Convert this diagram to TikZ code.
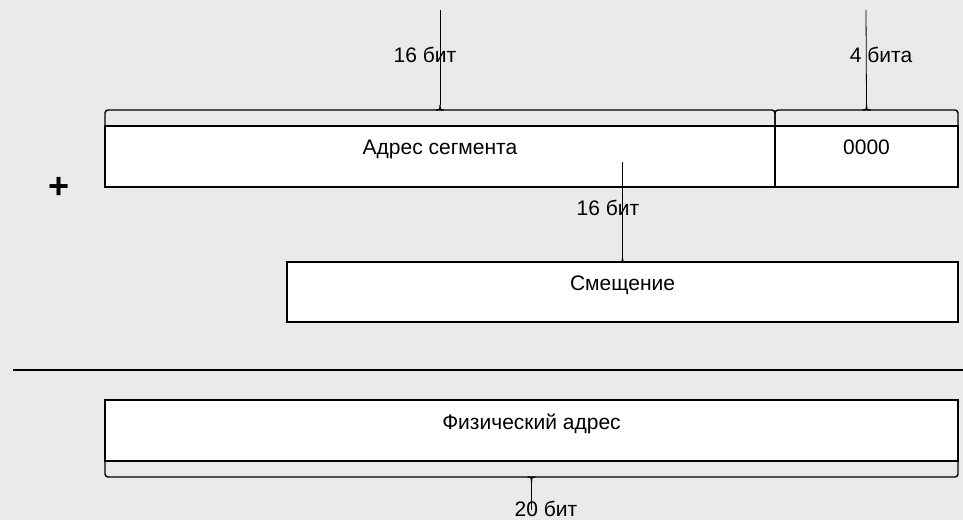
\documentclass[tikz,border=0pt]{standalone}
\usepackage{fontspec}
\setmainfont{Liberation Sans}
\usetikzlibrary{positioning,calc}
\definecolor{canvas}{RGB}{234,234,234}

\tikzset{
  field/.style={draw=black,fill=white,line width=1.6pt,
                minimum height=61pt,inner sep=0pt,outer sep=0pt},
  fieldtext/.style={anchor=base,inner sep=0pt,font=\fontsize{21}{25}\selectfont},
  bracket/.style={line width=1.4pt,rounded corners=3pt},
  tipline/.style={line width=0.8pt},
}

% small cusp in the middle of a bracket: point on the arm, signed height, name of tip
\newcommand{\bitcusp}[3]{%
  \draw[bracket,rounded corners=0pt] ($(#1)+(-4,0)$) .. controls (#1) .. ($(#1)+(0,#2)$) coordinate (#3)
    .. controls (#1) .. ($(#1)+(4,0)$);
}

\begin{document}
\begin{tikzpicture}[x=1pt,y=1pt]
  \fill[canvas] (0,0) rectangle (963,520);
  \useasboundingbox (0,0) rectangle (963,520);

  % segment address + four zero bits
  \node[field,minimum width=670pt] (seg) at (440,363.5) {};
  \node[field,minimum width=183pt,right=0pt of seg] (zero) {};
  \node[fieldtext] (seglbl) at ([yshift=1.5]seg.center) {Адрес сегмента};
  \node[fieldtext] (zerolbl) at ([yshift=1.5]zero.center) {0000};
  \draw[bracket] (seg.north west) -- ++(0,16) -| (seg.north east);
  \draw[bracket] (zero.north west) -- ++(0,16) -| (zero.north east);
  \bitcusp{$(seg.north)+(0,16)$}{5}{segtip}
  \bitcusp{$(zero.north)+(0,16)$}{5}{zerotip}
  \coordinate (segend) at (440,510);
  \coordinate (zeroend) at (866,510);
  \draw[tipline] (segtip) -- (segend);
  \draw[tipline] (zerotip) -- (zeroend);
  \node[fieldtext] (segbits) at (425,457) {16 бит};
  \node[fieldtext] (zerobits) at (881,457) {4 бита};

  \node[font=\fontsize{36}{40}\bfseries,inner sep=0pt] (plus) at (59,332) {+};

  % offset
  \node[field,minimum width=671pt,minimum height=60pt] (off) at (622.5,228) {};
  \node[fieldtext] (offlbl) at ([yshift=1.5]off.center) {Смещение};
  \bitcusp{off.north}{4}{offtip}
  \coordinate (offend) at (622.5,358);
  \draw[tipline] (offtip) -- (offend);
  \node[fieldtext] (offbits) at (608,304) {16 бит};

  % sum line
  \coordinate (ruleL) at (13,150);
  \coordinate (ruleR) at (963,150);
  \draw[line width=1.6pt] (ruleL) -- (ruleR);

  % physical address
  \node[field,minimum width=853pt] (phys) at (531.5,89.5) {};
  \node[fieldtext] (physlbl) at ([yshift=1.5]phys.center) {Физический адрес};
  \draw[bracket] (phys.south west) -- ++(0,-16) -| (phys.south east);
  \bitcusp{$(phys.south)+(0,-16)$}{-5}{phystip}
  \coordinate (physend) at (531.5,10);
  \draw[tipline] (phystip) -- (physend);
  \node[fieldtext] (physbits) at (546,4) {20 бит};
\end{tikzpicture}
\end{document}
